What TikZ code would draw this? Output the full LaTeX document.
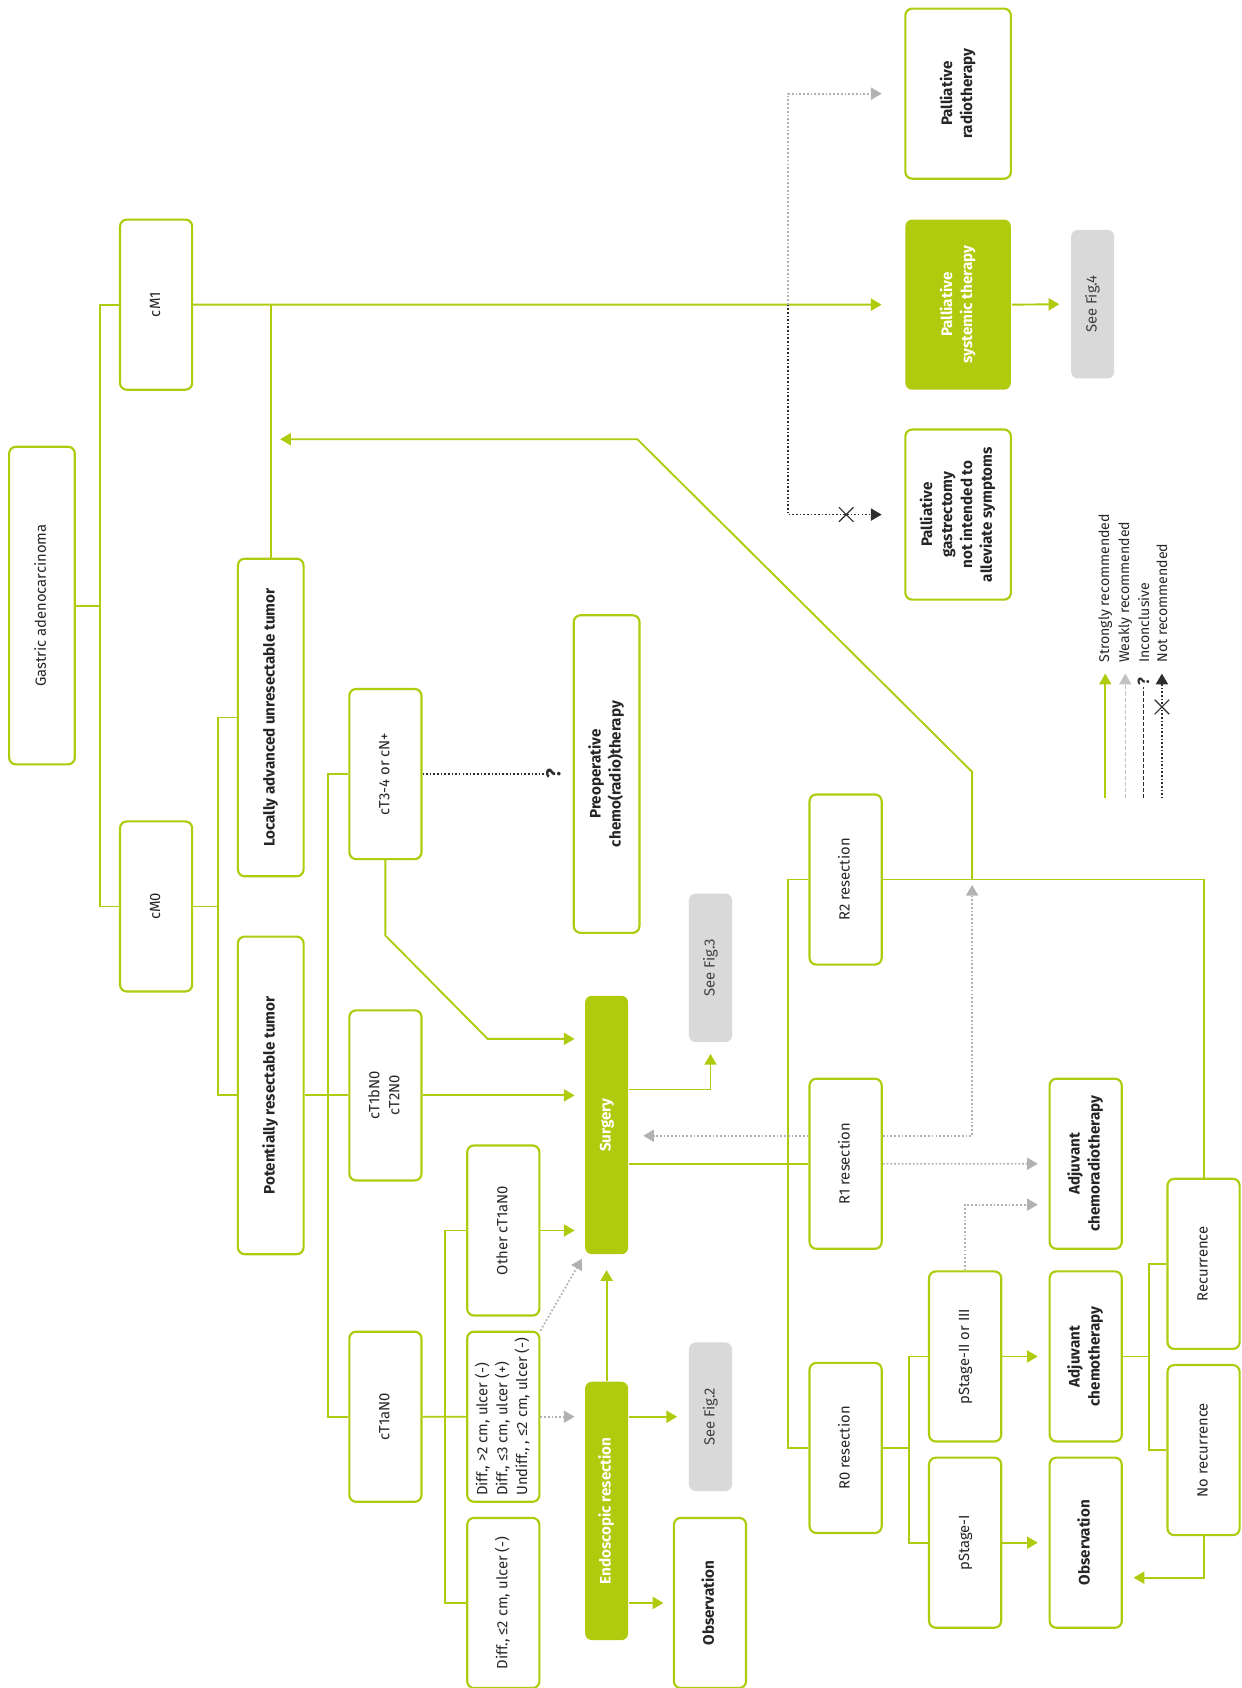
\documentclass[tikz,border=0pt]{standalone}
\usepackage{fontspec}
\usepackage{graphicx}
\setmainfont{Fira Sans}
\usetikzlibrary{positioning,arrows.meta,shapes.misc}
\definecolor{grn}{RGB}{176,202,14}
\definecolor{figgray}{RGB}{217,217,217}
\definecolor{wkgray}{RGB}{178,178,178}
\definecolor{dk}{RGB}{45,45,45}
\newcommand{\rt}[1]{\rotatebox{90}{\begin{tabular}{@{}c@{}}#1\end{tabular}}}
\newcommand{\rtl}[1]{\rotatebox{90}{\begin{tabular}{@{}l@{}}#1\end{tabular}}}
\tikzset{
  box/.style={draw=grn,line width=1.6pt,rounded corners=5pt,fill=white,inner sep=0pt,
    minimum width=53.6pt,minimum height=126.4pt,text=black!85,
    font=\fontsize{11}{14.8}\selectfont},
  bbox/.style={box,font=\fontsize{11.3}{14.8}\selectfont\bfseries},
}

\begin{document}
\begin{tikzpicture}[x=0.8pt,y=-0.8pt,
   tall/.style={bbox,minimum width=48.8pt,minimum height=236pt},
   pal/.style={bbox,minimum width=78.4pt},
   fig/.style={box,draw=none,fill=figgray,minimum width=32pt,minimum height=110.4pt,text=black!75},
   act/.style={bbox,draw=none,fill=grn,text=white,minimum width=32pt,minimum height=192pt},
   ln/.style={draw=grn,line width=1.4pt},
   sarr/.style={ln,-{Triangle[length=8pt,width=9pt]},shorten >=7pt},
   warr/.style={draw=wkgray,line width=1.3pt,dash pattern=on 1.3pt off 1.5pt,
     -{Triangle[length=8pt,width=9pt]},shorten >=7pt},
   dots/.style={draw=dk,line width=1.2pt,dash pattern=on 1.2pt off 1.5pt},
   narr/.style={dots,-{Triangle[length=8pt,width=9pt]},shorten >=7pt},
   xmark/.style={cross out,draw=dk,line width=0.8pt,minimum size=10pt,inner sep=0pt,solid,
     shorten >=0pt,-},
   qm/.style={text=dk,inner sep=1pt,font=\fontsize{15}{15}\selectfont\bfseries},
   lgd/.style={inner sep=0pt,text=black!85,font=\fontsize{10.5}{12}\selectfont}]
\useasboundingbox (0,0) rectangle (1153,1568);
% Staging
\node[tall,font=\fontsize{11}{14.8}\selectfont] (G) at (39,562.5) {\rt{Gastric adenocarcinoma}};
\node[box] (cM1) at (145,283) {\rt{cM1}};
\node[box] (cM0) at (145,842) {\rt{cM0}};
\node[tall] (LA) at (251.5,666.5) {\rt{Locally advanced unresectable tumor}};
\node[tall] (PR) at (251.5,1017.5) {\rt{Potentially resectable tumor}};
\node[box] (T34) at (358,719) {\rt{cT3-4 or cN+}};
\node[box] (T1b) at (358,1017.5) {\rt{cT1bN0\\cT2N0}};
\node[box] (T1a) at (358,1316) {\rt{cT1aN0}};
\node[qm] (q1) at (514,719) {\rotatebox{90}{?}};
\node[tall] (Pre) at (563.5,719) {\rt{Preoperative\\chemo(radio)therapy}};
% Early tumors
\node[box] (O1a) at (467.5,1143) {\rt{Other cT1aN0}};
\node[box] (Dif3) [below=10.4pt of O1a] {\rtl{Diff., >2 cm, ulcer (-)\\Diff., ≤3 cm, ulcer (+)\\Undiff., , ≤2 cm, ulcer (-)}};
\node[box] (Dif1) [below=10.4pt of Dif3] {\rt{Diff., ≤2 cm, ulcer (-)}};
\node[act] (S) at (563.5,1045) {\rt{Surgery}};
\node[act] (ER) at (563.5,1403.5) {\rt{Endoscopic resection}};
\node[fig] (F3) at (660,899) {\rt{See Fig.3}};
\node[fig] (F2) at (660,1316) {\rt{See Fig.2}};
\node[bbox] (Ob1) at (659.5,1489) {\rt{Observation}};
% After surgery
\node[box] (R2) at (785.5,817) {\rt{R2 resection}};
\node[box] (R1) [below=83.2pt of R2] {\rt{R1 resection}};
\node[box] (R0) [below=83.2pt of R1] {\rt{R0 resection}};
\node[box] (pS2) at (896.5,1260) {\rt{pStage-II or III}};
\node[box] (pS1) [below=10.4pt of pS2] {\rt{pStage-I}};
\node[bbox] (ACR) at (1008.5,1081) {\rt{Adjuvant\\chemoradiotherapy}};
\node[bbox] (AC) at (1008.5,1260) {\rt{Adjuvant\\chemotherapy}};
\node[bbox] (Ob2) [below=10.4pt of AC] {\rt{Observation}};
\node[box] (Rec) at (1118,1174) {\rt{Recurrence}};
\node[box] (NR) [below=10.4pt of Rec] {\rt{No recurrence}};
% Palliative
\node[pal] (PRT) at (890,87) {\rt{Palliative\\radiotherapy}};
\node[pal,draw=none,fill=grn,text=white] (PST) [below=28.8pt of PRT] {\rt{Palliative\\systemic therapy}};
\node[pal] (PG) [below=28pt of PST] {\rt{Palliative\\gastrectomy\\not intended to\\alleviate symptoms}};
\node[fig] (F4) at (1015,282.5) {\rt{See Fig.4}};
% junctions
\coordinate (j0) at ([xshift=17.6pt]G.east);
\coordinate (j1) at ([xshift=18.4pt]cM0.east);
\coordinate (j2) at ([xshift=17.6pt]PR.east);
\coordinate (j3) at ([xshift=16.8pt]T1a.east);
\coordinate (j4) at ([xshift=-15.2pt]R1.west);
\coordinate (j5) at ([xshift=19.2pt]R0.east);
\coordinate (j6) at ([xshift=19.2pt]AC.east);
\coordinate (j7) at (j4 |- cM1.east);
\coordinate (jn) at ([xshift=66.4pt]R2.east);
\coordinate (k1) at ([yshift=-56pt]T34.south);
\coordinate (k2) at (453,965);
\coordinate (k3) at ([yshift=80pt]jn);
\coordinate (k4) at (592,408);
% connectors
\draw[ln] (G.east) -- (j0);
\draw[ln] (cM1.west) -| (j0) |- (cM0.west);
\draw[sarr,shorten >=16.8pt] (cM1.east) -- (PST.west);
\draw[ln] (LA.north) -- (LA.north |- cM1.east);
\draw[ln] (cM0.east) -- (j1);
\draw[ln] (LA.west) -| (j1) |- (PR.west);
\draw[ln] (PR.east) -- (T1b.west);
\draw[ln] (T34.west) -| (j2) |- (T1a.west);
\draw[dots] (T34.east) -- (q1.west);
\draw[sarr] (T34.south) -- (k1) -- (k2) -- (k2 -| S.west);
\draw[sarr] (T1b.east) -- (T1b.east -| S.west);
\draw[ln] (T1a.east) -- (Dif3.west);
\draw[ln] (O1a.west) -| (j3) |- (Dif1.west);
\draw[sarr] (O1a.east) -- (O1a.east -| S.west);
\draw[warr] (Dif3.east) -- (Dif3.east -| ER.west);
\draw[warr,shorten >=3pt] (Dif3.north east) -- (S.south west);
\draw[sarr,shorten >=11pt] (ER.north) -- (S.south);
\draw[sarr,shorten >=8pt] (ER.east |- F2.west) -- (F2.west);
\draw[sarr] (ER.east |- Ob1.west) -- (Ob1.west);
\draw[sarr,shorten >=8pt] ([yshift=26.4pt]S.east) -| (F3.south);
\draw[ln] (S.east |- R1.west) -- (R1.west);
\draw[ln] (R2.west) -| (j4) |- (R0.west);
\draw[warr,shorten >=10.4pt] ([yshift=20.8pt]R1.west) -- ([yshift=20.8pt]R1.west -| S.east);
\draw[warr,shorten >=4pt] ([yshift=20.8pt]R1.east) -| (jn);
\draw[warr,shorten >=8pt] (R1.east) -- (ACR.west);
\draw[ln] (R2.east) -| (Rec.north);
\draw[sarr] (jn) -- (k3) -- (k4) -- (k4 -| LA.north);
\draw[ln] (R0.east) -- (j5);
\draw[ln] (pS2.west) -| (j5) |- (pS1.west);
\draw[warr,shorten >=8pt] (pS2.north) |- ([yshift=-30.4pt]ACR.west);
\draw[sarr,shorten >=8pt] (pS2.east) -- (AC.west);
\draw[sarr,shorten >=8pt] (pS1.east) -- (Ob2.west);
\draw[ln] (AC.east) -- (j6);
\draw[ln] (Rec.west) -| (j6) |- (NR.west);
\draw[sarr,shorten >=8pt] (NR.south) |- ([yshift=-26pt]Ob2.east);
\draw[sarr,shorten >=8pt] (PST.east) -- (F4.west);
\draw[warr,shorten >=16.8pt] (j7) |- (PRT.west);
\draw[narr,shorten >=16.8pt] (j7) |- node[xmark,pos=0.75]{} (PG.west);
% Legend
\node[lgd,anchor=south] (l1) at (1026.7,615.7) {\rotatebox{90}{Strongly recommended}};
\node[lgd,anchor=south] (l2) at (1045.3,615.7) {\rotatebox{90}{Weakly recommended}};
\node[lgd,anchor=south] (l3) at (1062.3,615.7) {\rotatebox{90}{Inconclusive}};
\node[lgd,anchor=south] (l4) at (1079.3,615.7) {\rotatebox{90}{Not recommended}};
\node[qm,font=\fontsize{12}{12}\selectfont\bfseries] (q2) at (1062.3,633) {\rotatebox{90}{?}};
\coordinate (b1) at (1026.7,741.7);
\coordinate (b2) at (1045.3,741.7);
\coordinate (b3) at (1062.3,741.7);
\coordinate (b4) at (1079.3,741.7);
\draw[sarr,line width=1.2pt,shorten >=8pt] (b1) -- (l1.south);
\draw[draw=wkgray!80,line width=1.2pt,dash pattern=on 3pt off 1.5pt,
  -{Triangle[length=8pt,width=9pt]},shorten >=8pt] (b2) -- (l2.south);
\draw[draw=dk,line width=1.2pt,dash pattern=on 3pt off 1.5pt] (b3) -- (q2.south);
\draw[narr,shorten >=8pt] (b4) -- node[xmark,pos=0.675]{} (l4.south);
\end{tikzpicture}
\end{document}
